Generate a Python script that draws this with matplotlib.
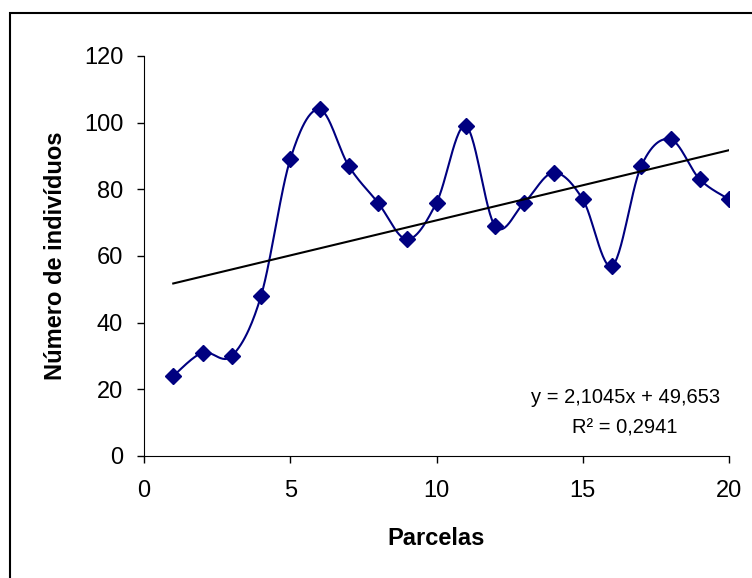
import numpy as np
import matplotlib.pyplot as plt
from matplotlib.patches import Rectangle

plt.rcParams['font.family'] = ['Liberation Sans', 'DejaVu Sans']

parcelas = list(range(1, 21))
individuos = [24, 31, 30, 48, 89, 104, 87, 76, 65, 76, 99, 69, 76, 85, 77, 57, 87, 95, 83, 77]

x = np.array(parcelas, dtype=float)
y = np.array(individuos, dtype=float)

# smoothed line like excel (bezier through points)
def smooth(x, y, n=30):
    xs, ys = [], []
    px = np.concatenate([[x[0]], x, [x[-1]]])
    py = np.concatenate([[y[0]], y, [y[-1]]])
    t = np.linspace(0, 1, n)
    for i in range(1, len(px) - 2):
        p0 = np.array([px[i], py[i]])
        p3 = np.array([px[i + 1], py[i + 1]])
        p1 = p0 + (np.array([px[i + 1], py[i + 1]]) - np.array([px[i - 1], py[i - 1]])) / 6
        p2 = p3 - (np.array([px[i + 2], py[i + 2]]) - np.array([px[i], py[i]])) / 6
        for tt in t:
            b = (1 - tt) ** 3 * p0 + 3 * (1 - tt) ** 2 * tt * p1 + 3 * (1 - tt) * tt ** 2 * p2 + tt ** 3 * p3
            xs.append(b[0])
            ys.append(b[1])
    return xs, ys

slope, intercept = np.polyfit(x, y, 1)
r2 = np.corrcoef(x, y)[0, 1] ** 2

fig = plt.figure(figsize=(7.52, 5.78), dpi=100)
ax = fig.add_axes([144 / 752, 1 - 456 / 578, (729 - 144) / 752, (456 - 56) / 578])

sx, sy = smooth(x, y)
ax.plot(sx, sy, color='#000080', lw=1.5)
ax.plot(x, y, linestyle='none', marker='D', color='#000080', markersize=8)
ax.plot([x[0], x[-1]], [slope * x[0] + intercept, slope * x[-1] + intercept], color='black', lw=1.5)

ax.set_xlim(0, 20)
ax.set_ylim(0, 120)
ax.set_xticks([0, 5, 10, 15, 20])
ax.set_yticks(range(0, 121, 20))
ax.spines['top'].set_visible(False)
ax.spines['right'].set_visible(False)
ax.tick_params(direction='out', length=5, width=1, labelsize=17, pad=10)
ax.tick_params(axis='x', pad=12)
ax.set_xlabel('Parcelas', fontsize=17, fontweight='bold', labelpad=18)
ax.set_ylabel('Número de indivíduos', fontsize=17, fontweight='bold', labelpad=12)

eq = 'y = %s x + %s' % (('%.4f' % slope).replace('.', ','), ('%.3f' % intercept).replace('.', ','))
eq = eq.replace(' x', 'x')
ax.text(16.45, 17.5, eq, fontsize=14.5, ha='center', va='center')
ax.text(16.45, 8.5, 'R\u00b2 = ' + ('%.4f' % r2).replace('.', ','), fontsize=14.5, ha='center', va='center')

fig.patches.append(Rectangle((10 / 752, -0.1), 1.2, 1 - 13 / 578 + 0.1, transform=fig.transFigure,
                             fill=False, edgecolor='black', lw=1.5))

fig.savefig('out.png', dpi=100)
